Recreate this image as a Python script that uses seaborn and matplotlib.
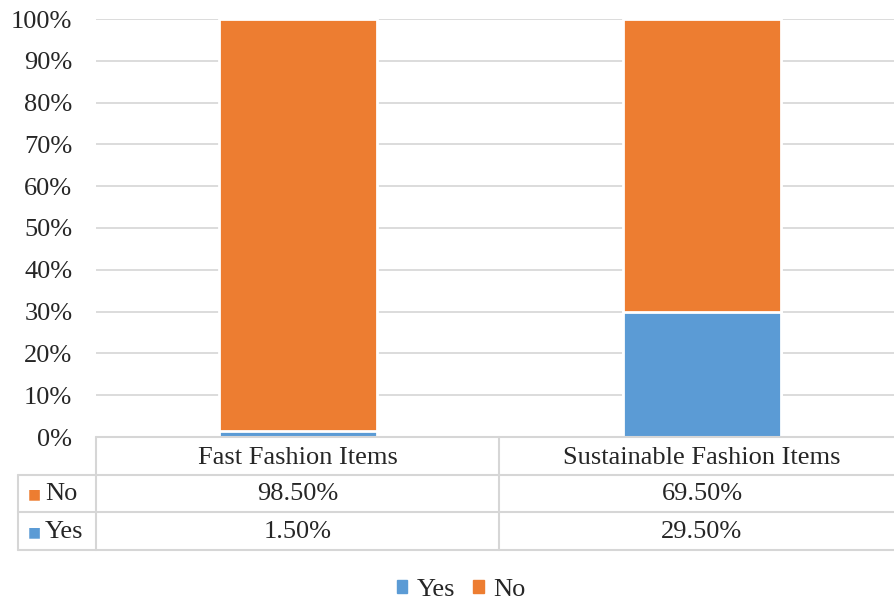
import matplotlib
matplotlib.use('Agg')
import matplotlib.pyplot as plt
from matplotlib.lines import Line2D
from matplotlib.patches import Patch
import seaborn as sns
import pandas as pd

# data
categories = ['Fast Fashion Items', 'Sustainable Fashion Items']
yes_vals = [1.5, 29.5]
no_vals = [98.5, 69.5]
yticks = list(range(0, 101, 10))

c_yes = '#5B9BD5'
c_no = '#ED7D31'
grid_c = '#d6d6d6'

sns.set_style('white')
plt.rcParams['font.family'] = ['Liberation Serif', 'DejaVu Serif']

W, H = 895, 604
fig = plt.figure(figsize=(W / 100, H / 100), dpi=100)
# plot area runs a bit past the right edge like in the original
ax = fig.add_axes([96 / W, 1 - 437 / H, (904 - 96) / W, (437 - 19) / H])

# 100% stacked: normalise each column
totals = [y + n for y, n in zip(yes_vals, no_vals)]
df = pd.DataFrame({'cat': categories,
                   'yes': [y / t * 100 for y, t in zip(yes_vals, totals)],
                   'total': [100.0 for t in totals]})

sns.barplot(data=df, x='cat', y='total', color=c_no, saturation=1,
            width=0.39, edgecolor='white', linewidth=2, ax=ax, zorder=3)
sns.barplot(data=df, x='cat', y='yes', color=c_yes, saturation=1,
            width=0.39, edgecolor='white', linewidth=2, ax=ax, zorder=4)

ax.set_xlim(-0.5, 1.5)
ax.set_ylim(0, 100)
ax.set_yticks(yticks)
ax.set_yticklabels([f'{t}%' for t in yticks], fontsize=19)
ax.tick_params(axis='y', length=0, pad=17)
ax.set_xticks([])
ax.set_xlabel('')
ax.set_ylabel('')
ax.yaxis.grid(True, color=grid_c, linewidth=1.2)
ax.set_axisbelow(True)
for s in ax.spines.values():
    s.set_visible(False)


# data table under the plot (pixel positions in figure space)
def fx(px):
    return px / W


def fy(py):
    return 1 - py / H


def hline(x0, x1, y):
    fig.add_artist(Line2D([fx(x0), fx(x1)], [fy(y), fy(y)], color=grid_c,
                          lw=1.5, transform=fig.transFigure))


def vline(x, y0, y1):
    fig.add_artist(Line2D([fx(x), fx(x)], [fy(y0), fy(y1)], color=grid_c,
                          lw=1.5, transform=fig.transFigure))


hline(96, 895, 437)
hline(18, 895, 475)
hline(18, 895, 512)
hline(18, 895, 550)
vline(18, 475, 550)
vline(96, 437, 550)
vline(499, 437, 550)

col_centers = [298, 702]
row_y = {'head': 458, 'No': 494, 'Yes': 532}
fs = 19
for cx, cat, n, y in zip(col_centers, categories, no_vals, yes_vals):
    fig.text(fx(cx), fy(row_y['head']), cat, ha='center', va='center', fontsize=fs)
    fig.text(fx(cx), fy(row_y['No']), f'{n:.2f}%', ha='center', va='center', fontsize=fs)
    fig.text(fx(cx), fy(row_y['Yes']), f'{y:.2f}%', ha='center', va='center', fontsize=fs)

for lab, col in [('No', c_no), ('Yes', c_yes)]:
    fig.text(fx(28), fy(row_y[lab]), '\u25A0', color=col, ha='left', va='center',
             fontsize=10, family='DejaVu Sans')
    fig.text(fx(45), fy(row_y[lab]), lab, ha='left', va='center', fontsize=fs)

handles = [Patch(color=c_yes, label='Yes'), Patch(color=c_no, label='No')]
fig.legend(handles=handles, loc='center', bbox_to_anchor=(fx(461), fy(590)),
           ncol=2, frameon=False, fontsize=fs, handlelength=0.4,
           handleheight=0.4, handletextpad=0.35, columnspacing=0.7,
           borderpad=0, borderaxespad=0)

fig.savefig('out.png', dpi=100)
